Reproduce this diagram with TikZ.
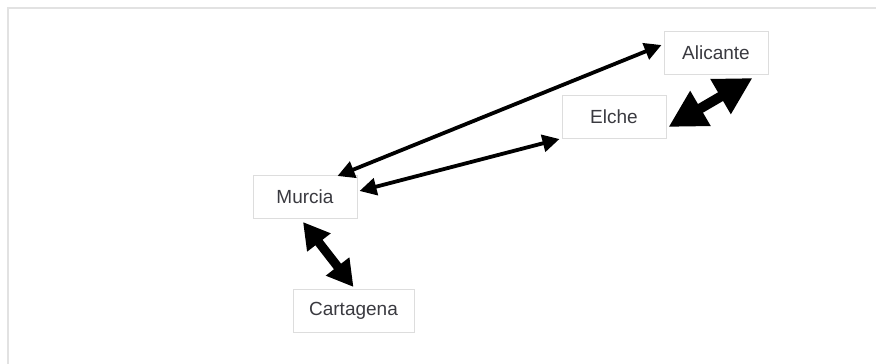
\documentclass[tikz,border=0pt]{standalone}
\usepackage{fontspec}
\setmainfont{Liberation Sans}
\usetikzlibrary{arrows.meta}
\definecolor{boxline}{HTML}{DDDDDD}
\definecolor{frameline}{HTML}{E2E2E2}
\definecolor{txt}{HTML}{3A3A40}
\begin{document}
\begin{tikzpicture}[x=1pt,y=-1pt,
  city/.style={draw=boxline, line width=1pt, fill=white, minimum width=104pt, minimum height=43pt, inner sep=0pt, font=\fontsize{19}{22}\selectfont, text=txt},
  thinlink/.style={line width=3.8pt, {Triangle[length=17pt,width=17pt]}-{Triangle[length=17pt,width=17pt]}},
  biglink/.style={line width=10pt, {Triangle[length=37pt,width=38pt]}-{Triangle[length=37pt,width=38pt]}},
  medlink/.style={line width=9pt, {Triangle[length=26pt,width=28pt]}-{Triangle[length=26pt,width=28pt]}}]
\useasboundingbox (0,0) rectangle (876,364);
\draw[frameline, line width=1.5pt] (8,364) -- (8,8) -- (876,8);
\node[city] (ali) at (716,53) {Alicante};
\node[city] (el) at (614,117) {Elche};
\node[city] (mur) at (305,197) {Murcia};
\node[city, minimum width=121pt] (car) at (353.5,311) {Cartagena};
\draw[thinlink] ([shift={(-20,1)}]mur.north east) -- ([shift={(-2,-8)}]ali.west);
\draw[thinlink] ([shift={(2,-6)}]mur.east) -- ([shift={(-2,0)}]el.south west);
\draw[biglink] ([shift={(2,-12)}]el.south east) -- ([shift={(-16,3)}]ali.south east);
\draw[medlink] ([shift={(-2,3)}]mur.south) -- ([shift={(0,-2)}]car.north);
\end{tikzpicture}
\end{document}
